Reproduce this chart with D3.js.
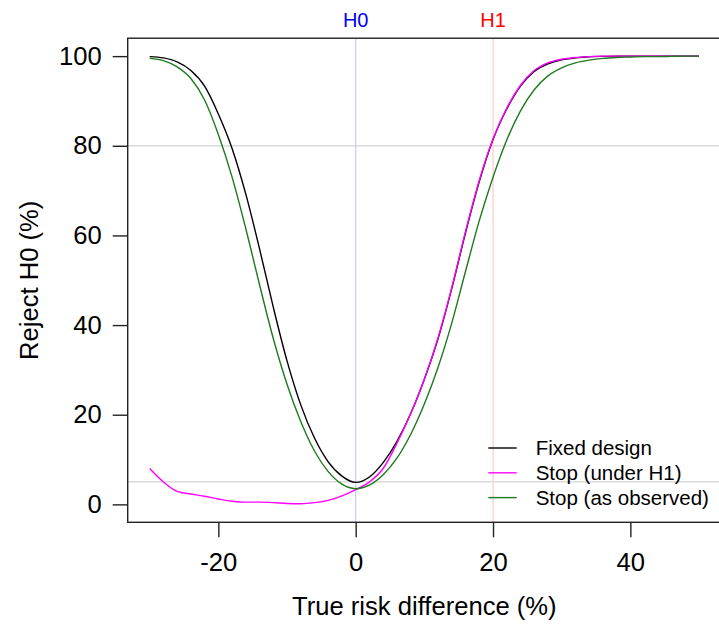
<!DOCTYPE html>
<html>
<head>
<meta charset="utf-8">
<script src="https://cdn.jsdelivr.net/npm/d3@7"></script>
<style>
  html, body { margin: 0; padding: 0; background: #fff; }
  svg { display: block; font-family: "Liberation Sans", Arial, sans-serif; }
</style>
</head>
<body>
<svg id="chart" width="719" height="626"></svg>
<script>
// True risk difference (%) at which the rejection rates were evaluated
const riskDiff = [-30, -28, -26, -24, -22, -20, -18, -16, -14, -12, -10, -8, -6, -4, -2, 0,
  2, 4, 6, 8, 10, 12, 14, 16, 18, 20, 22, 24, 26, 28, 30, 32, 34, 36, 38, 40,
  42, 44, 46, 48, 50];

// Probability of rejecting H0 (%) for each design
const fixedDesign = [99.9, 99.6, 98.7, 96.8, 93.3, 87.1, 79.4, 69.2, 57.0, 44.0, 32.0, 22.2, 14.8, 9.5, 6.3, 4.9,
  6.1, 9.3, 14.0, 20.2, 27.9, 37.0, 48.2, 60.6, 72.0, 81.4, 88.2, 93.3, 96.6, 98.3, 99.2, 99.6, 99.85, 99.95, 100, 100,
  100, 100, 100, 100, 100];
const stopUnderH1 = [8.0, 5.0, 2.9, 2.3, 1.8, 1.2, 0.7, 0.5, 0.5, 0.4, 0.2, 0.15, 0.4, 0.9, 1.9, 3.3,
  5.0, 8.0, 13.6, 20.2, 27.9, 37.2, 48.4, 60.9, 72.3, 81.5, 88.4, 93.5, 96.8, 98.5, 99.3, 99.7, 99.9, 100, 100, 100,
  100, 100, 100, 100, 100];
const stopAsObserved = [99.5, 99.0, 97.6, 95.0, 90.2, 82.5, 73.0, 61.5, 49.0, 37.0, 26.8, 18.5, 11.9, 7.3, 4.5, 3.5,
  4.3, 6.6, 10.3, 15.6, 22.4, 30.6, 40.5, 52.0, 63.3, 73.0, 81.3, 87.8, 92.5, 95.6, 97.4, 98.5, 99.1, 99.5, 99.7, 99.8,
  99.9, 99.9, 99.95, 100, 100];

const seriesNames = ["Fixed design", "Stop (under H1)", "Stop (as observed)"];
const seriesColors = ["#000000", "#ff00ff", "#1d7a1d"];
const seriesValues = [fixedDesign, stopUnderH1, stopAsObserved];

const xTicks = [-20, 0, 20, 40];
const yTicks = [0, 20, 40, 60, 80, 100];
const hLines = [80, 5];              // reference rejection levels (power, alpha)
const hypotheses = [
  { label: "H0", value: 0,  text: "#0000ff", line: "#ccccff" },
  { label: "H1", value: 20, text: "#ff0000", line: "#ffcccc" }
];

const svg = d3.select("#chart");
const plotLeft = 127.7, plotRight = 721, plotTop = 38.2, plotBottom = 522.3;

// Data range padded by 4% on each side
const xMin = d3.min(riskDiff), xMax = d3.max(riskDiff);
const xPad = (xMax - xMin) * 0.04;
const x = d3.scaleLinear().domain([xMin - xPad, xMax + xPad]).range([plotLeft, plotRight]);
const y = d3.scaleLinear().domain([-4, 104]).range([plotBottom, plotTop]);

const fontMain = 25.6;

// Reference lines
svg.append("g").selectAll("line").data(hLines).join("line")
  .attr("x1", plotLeft).attr("x2", plotRight)
  .attr("y1", d => y(d)).attr("y2", d => y(d))
  .attr("stroke", "#d3d3d3").attr("stroke-width", 1.3);

svg.append("g").selectAll("line").data(hypotheses).join("line")
  .attr("x1", d => x(d.value)).attr("x2", d => x(d.value))
  .attr("y1", plotTop).attr("y2", plotBottom)
  .attr("stroke", d => d.line).attr("stroke-width", 1.3);

// Hypothesis labels above the plot
svg.append("g").selectAll("text").data(hypotheses).join("text")
  .attr("x", d => x(d.value)).attr("y", 26.6)
  .attr("text-anchor", "middle")
  .attr("font-size", 20)
  .attr("fill", d => d.text)
  .text(d => d.label);

// Curves
const line = d3.line()
  .x((d, i) => x(riskDiff[i]))
  .y(d => y(d))
  .curve(d3.curveMonotoneX);

svg.append("g").selectAll("path").data(seriesValues).join("path")
  .attr("d", d => line(d))
  .attr("fill", "none")
  .attr("stroke", (d, i) => seriesColors[i])
  .attr("stroke-width", 1.4);

// Plot frame
svg.append("rect")
  .attr("x", plotLeft).attr("y", plotTop)
  .attr("width", plotRight - plotLeft).attr("height", plotBottom - plotTop)
  .attr("fill", "none").attr("stroke", "#222").attr("stroke-width", 1.4);

// Axes
const xAxis = svg.append("g")
  .attr("transform", `translate(0,${plotBottom})`)
  .call(d3.axisBottom(x).tickValues(xTicks).tickSize(15).tickPadding(16).tickFormat(d3.format("d")));
const yAxis = svg.append("g")
  .attr("transform", `translate(${plotLeft},0)`)
  .call(d3.axisLeft(y).tickValues(yTicks).tickSize(15).tickPadding(11).tickFormat(d3.format("d")));

[xAxis, yAxis].forEach(g => {
  g.select(".domain").remove();
  g.selectAll(".tick line").attr("stroke", "#222").attr("stroke-width", 1.4);
  g.selectAll(".tick text")
    .attr("font-size", fontMain)
    .attr("font-family", "'Liberation Sans', Arial, sans-serif")
    .attr("fill", "#000");
});
xAxis.selectAll(".tick text").text(d => d < 0 ? "-" + Math.abs(d) : d);

// Axis titles
svg.append("text")
  .attr("x", (plotLeft + plotRight) / 2).attr("y", 615)
  .attr("text-anchor", "middle")
  .attr("font-size", fontMain)
  .text("True risk difference (%)");

svg.append("text")
  .attr("transform", `translate(37.5,${(plotTop + plotBottom) / 2}) rotate(-90)`)
  .attr("text-anchor", "middle")
  .attr("font-size", fontMain)
  .text("Reject H0 (%)");

// Legend
const legend = svg.append("g").selectAll("g").data(seriesNames).join("g")
  .attr("transform", (d, i) => `translate(488.3,${448 + i * 24.8})`);
legend.append("line")
  .attr("x1", 0).attr("x2", 28.4).attr("y1", 0).attr("y2", 0)
  .attr("stroke", (d, i) => seriesColors[i]).attr("stroke-width", 1.4);
legend.append("text")
  .attr("x", 47.4).attr("y", 0)
  .attr("dy", "0.35em")
  .attr("font-size", 20.5)
  .text(d => d);
</script>
</body>
</html>
